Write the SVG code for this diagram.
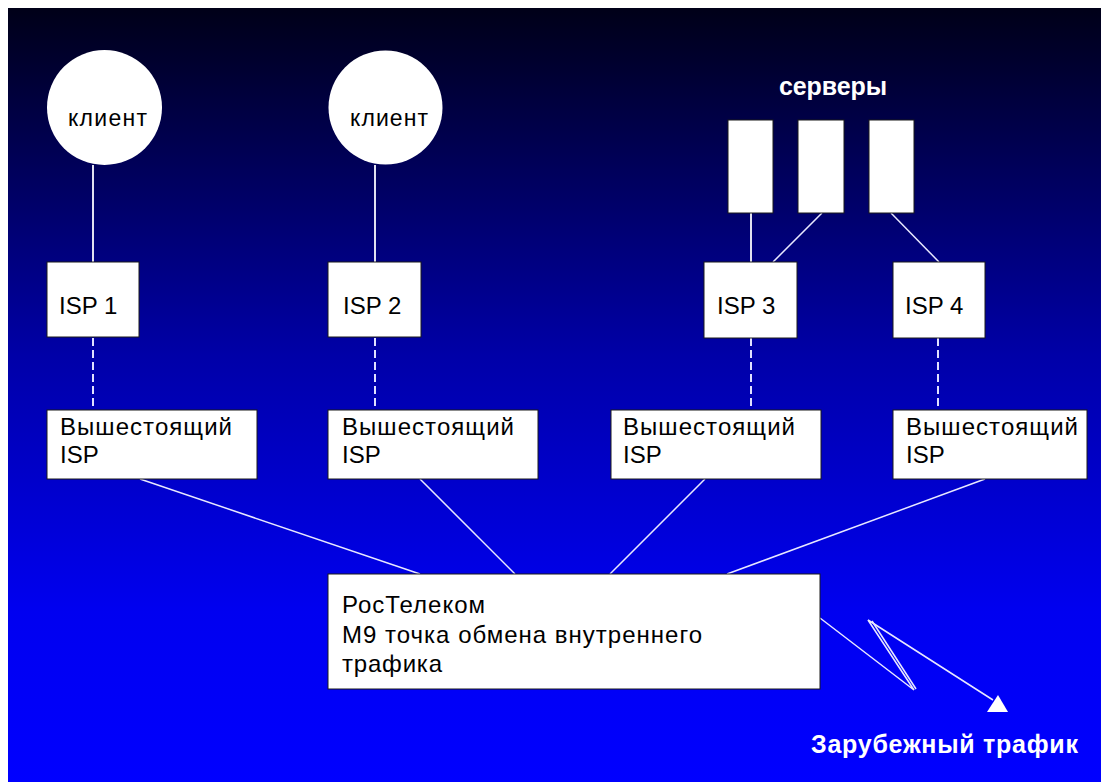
<svg xmlns="http://www.w3.org/2000/svg" width="1101" height="782" viewBox="0 0 1101 782">
  <defs>
    <linearGradient id="bg" x1="0" y1="8" x2="0" y2="782" gradientUnits="userSpaceOnUse">
      <stop offset="0" stop-color="#000018"/>
      <stop offset="0.45" stop-color="#0000a8"/>
      <stop offset="0.78" stop-color="#0000f0"/>
      <stop offset="1" stop-color="#0000ff"/>
    </linearGradient>
  </defs>
  <style>
    .box { fill: #ffffff; stroke: #1a1a1a; stroke-width: 1; }
    .circ { fill: #ffffff; }
    .lbl { font-family: "Liberation Sans", Arial, sans-serif; font-size: 24px; fill: #000000; }
    .cl { font-family: "Liberation Sans", Arial, sans-serif; font-size: 23px; fill: #000000; }
    .ttl { font-family: "Liberation Sans", Arial, sans-serif; font-size: 25px; font-weight: bold; fill: #ffffff; }
    .ln { stroke: #e8e8ff; stroke-width: 1.5; fill: none; }
    .vl { stroke: #e0e0f0; stroke-width: 2; fill: none; }
    .dash { stroke: #e0e0ff; stroke-width: 2; stroke-dasharray: 8 4; fill: none; }
  </style>
  <rect x="0" y="0" width="1101" height="782" fill="#ffffff"/>
  <rect x="8" y="8" width="1093" height="774" fill="url(#bg)"/>

  <g id="connectors">
    <line class="vl" x1="93" y1="165" x2="93" y2="262"/>
    <line class="vl" x1="375" y1="165" x2="375" y2="262"/>
    <line class="vl" x1="751" y1="213" x2="751" y2="262"/>
    <line class="ln" x1="822" y1="213" x2="773" y2="262"/>
    <line class="ln" x1="891" y1="213" x2="939" y2="262"/>
    <line class="dash" x1="93" y1="338" x2="93" y2="410"/>
    <line class="dash" x1="375" y1="338" x2="375" y2="410"/>
    <line class="dash" x1="751" y1="338" x2="751" y2="410"/>
    <line class="dash" x1="938" y1="338" x2="938" y2="410"/>
    <line class="ln" x1="140" y1="479" x2="420" y2="574"/>
    <line class="ln" x1="420" y1="479" x2="515" y2="574"/>
    <line class="ln" x1="705" y1="479" x2="610" y2="574"/>
    <line class="ln" x1="985" y1="479" x2="727" y2="574"/>
    <polyline class="ln" points="820,618 914,690 868,620 993,700"/>
    <line class="ln" x1="872" y1="621" x2="916" y2="689"/>
    <polygon points="998,695 987,712 1008,712" fill="#ffffff"/>
  </g>

  <g id="client1">
    <circle class="circ" cx="104.5" cy="107.5" r="57.5"/>
    <text class="cl" x="68" y="126" textLength="79" lengthAdjust="spacing">клиент</text>
  </g>
  <g id="client2">
    <circle class="circ" cx="385.5" cy="107.5" r="57"/>
    <text class="cl" x="350" y="126" textLength="78" lengthAdjust="spacing">клиент</text>
  </g>

  <g id="servers-label">
    <text class="ttl" x="779" y="95" textLength="108" lengthAdjust="spacing">серверы</text>
  </g>
  <g id="server1"><rect class="box" x="728" y="120" width="45" height="93"/></g>
  <g id="server2"><rect class="box" x="798" y="120" width="46" height="93"/></g>
  <g id="server3"><rect class="box" x="869" y="120" width="45" height="93"/></g>

  <g id="isp1">
    <rect class="box" x="47" y="262" width="92" height="75"/>
    <text class="lbl" x="59" y="314">ISP 1</text>
  </g>
  <g id="isp2">
    <rect class="box" x="328" y="262" width="93" height="75"/>
    <text class="lbl" x="343" y="314">ISP 2</text>
  </g>
  <g id="isp3">
    <rect class="box" x="704" y="262" width="93" height="76"/>
    <text class="lbl" x="717" y="314">ISP 3</text>
  </g>
  <g id="isp4">
    <rect class="box" x="893" y="262" width="92" height="76"/>
    <text class="lbl" x="905" y="314">ISP 4</text>
  </g>

  <g id="upstream1">
    <rect class="box" x="47" y="410" width="210" height="69"/>
    <text class="lbl" x="60" y="435" textLength="172" lengthAdjust="spacing">Вышестоящий</text>
    <text class="lbl" x="60" y="463">ISP</text>
  </g>
  <g id="upstream2">
    <rect class="box" x="328" y="410" width="210" height="69"/>
    <text class="lbl" x="342" y="435" textLength="172" lengthAdjust="spacing">Вышестоящий</text>
    <text class="lbl" x="342" y="463">ISP</text>
  </g>
  <g id="upstream3">
    <rect class="box" x="611" y="410" width="210" height="69"/>
    <text class="lbl" x="623" y="435" textLength="172" lengthAdjust="spacing">Вышестоящий</text>
    <text class="lbl" x="623" y="463">ISP</text>
  </g>
  <g id="upstream4">
    <rect class="box" x="893" y="410" width="194" height="69"/>
    <text class="lbl" x="906" y="435" textLength="172" lengthAdjust="spacing">Вышестоящий</text>
    <text class="lbl" x="906" y="463">ISP</text>
  </g>

  <g id="rostelecom">
    <rect class="box" x="328" y="574" width="492" height="115"/>
    <text class="lbl" x="342" y="613" textLength="143" lengthAdjust="spacing">РосТелеком</text>
    <text class="lbl" x="342" y="643" textLength="360" lengthAdjust="spacing">М9 точка обмена внутреннего</text>
    <text class="lbl" x="342" y="672" textLength="100" lengthAdjust="spacing">трафика</text>
  </g>

  <g id="foreign-label">
    <text class="ttl" x="811" y="753" textLength="267" lengthAdjust="spacing">Зарубежный трафик</text>
  </g>
</svg>
